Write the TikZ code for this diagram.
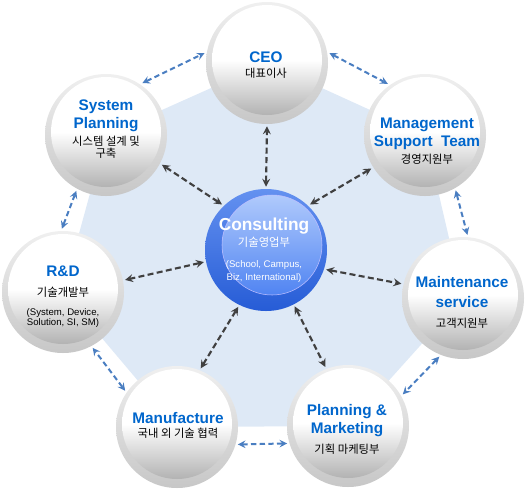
\documentclass[tikz,border=0pt]{standalone}
\usepackage{fontspec}
\newfontfamily\engfont{Liberation Sans}
\newfontfamily\korfont{Noto Sans CJK KR}
\usetikzlibrary{arrows}

\definecolor{bgblue}{RGB}{222,233,246}
\definecolor{titleblue}{RGB}{0,102,204}
\definecolor{linkblue}{RGB}{74,126,193}
\definecolor{linkgray}{RGB}{64,64,64}
\definecolor{ringtop}{RGB}{100,145,240}
\definecolor{ringbot}{RGB}{38,92,214}
\definecolor{balltop}{RGB}{176,202,252}
\definecolor{ballbot}{RGB}{80,132,242}

\newcommand{\kor}[1]{{\color{black}\korfont\mdseries\fontsize{8.5}{10}\selectfont #1}}
\newcommand{\note}[1]{{\color{black}\engfont\mdseries\fontsize{7.2}{9}\selectfont #1}}
\newcommand{\greyball}[1]{%
  \shade[top color=black!6, bottom color=black!22] (#1.center) circle[radius=61];
  \shade[top color=white, bottom color=black!30, middle color=white] ([yshift=2.25pt]#1.center) circle[radius=55];}

\begin{document}
\begin{tikzpicture}[x=0.75pt, y=0.75pt,
    hub/.style={circle, minimum size=94.5pt, inner sep=0pt},
    nametext/.style={align=center, text=titleblue, font=\engfont\bfseries\fontsize{11.5}{13.5}\selectfont}]
    \useasboundingbox (0,0) rectangle (528,-490);

    % Define the hubs (anchors for the connectors)
    \node[hub] (ceo) at (267,-63) {};
    \node[hub] (sp) at (106,-135) {};
    \node[hub] (mst) at (425,-135) {};
    \node[hub] (rd) at (63,-292) {};
    \node[hub] (ms) at (463,-298) {};
    \node[hub] (mf) at (177,-427) {};
    \node[hub] (pm) at (348,-426) {};
    \node[hub] (cs) at (266,-250) {};

    % Light blue plate behind the ring
    \fill[bgblue] (ceo.center) -- (mst.center) -- (ms.center) -- (pm.center)
        -- (mf.center) -- (rd.center) -- (sp.center) -- cycle;

    % Grey balls
    \greyball{ceo}
    \greyball{sp}
    \greyball{mst}
    \greyball{rd}
    \greyball{ms}
    \greyball{mf}
    \greyball{pm}

    % Blue ball in the middle
    \shade[top color=ringtop, bottom color=ringbot] (cs.center) circle[radius=61];
    \shade[top color=balltop, bottom color=ballbot, draw=white!75!blue, thin]
        ([xshift=4.5pt, yshift=3.75pt]cs.center) circle[radius=50];

    % Texts
    \node[nametext] (ceo-t) at (266,-65) {CEO\\[-2.25pt]\kor{대표이사}};
    \node[nametext] (sp-t) at (106,-129) {System\\Planning\\[-0.75pt]\kor{시스템 설계 및}\\[-4.5pt]\kor{구축}};
    \node[nametext] (mst-t) at (427,-141) {Management\\Support~~Team\\[-0.75pt]\kor{경영지원부}};
    \node[nametext] (ms-t) at (462,-302) {Maintenance\\[1.5pt]service\\[1.5pt]\kor{고객지원부}};
    \node[nametext] (pm-t) at (347,-429) {Planning \&\\Marketing\\[1.5pt]\kor{기획 마케팅부}};
    \node[nametext] (mf-t) at (178,-425) {Manufacture\\[-3pt]\kor{국내 외 기술 협력}};
    \node[nametext] (rd-t) at (63,-297) {R\&D\\[1.5pt]\kor{기술개발부}\\[0.75pt]\note{(System, Device,}\\[-6pt]\note{Solution, SI, SM)}};
    \node[nametext, text=white] (cs-t) at (264,-250) {{\fontsize{13}{15}\selectfont Consulting}\\[-1.5pt]{\color{white}\korfont\mdseries\fontsize{8.5}{10}\selectfont 기술영업부}\\[2.25pt]{\color{white}\engfont\mdseries\fontsize{7.2}{9}\selectfont (School, Campus,}\\[-3.75pt]{\color{white}\engfont\mdseries\fontsize{7.2}{9}\selectfont Biz, International)}};

    % Ring connectors
    \draw[<->, >=stealth, linkblue, line width=1.5pt, dash pattern=on 4pt off 2.5pt] (sp.55) -- (ceo.171);
    \draw[<->, >=stealth, linkblue, line width=1.5pt, dash pattern=on 4pt off 2.5pt] (ceo.9) -- (mst.126);
    \draw[<->, >=stealth, linkblue, line width=1.5pt, dash pattern=on 4pt off 2.5pt] (mst.-61) -- (ms.86);
    \draw[<->, >=stealth, linkblue, line width=1.5pt, dash pattern=on 4pt off 2.5pt] (ms.-112) -- (pm.30);
    \draw[<->, >=stealth, linkblue, line width=1.5pt, dash pattern=on 4pt off 2.5pt] (pm.-164) -- (mf.-16);
    \draw[<->, >=stealth, linkblue, line width=1.5pt, dash pattern=on 4pt off 2.5pt] (mf.145) -- (rd.-62);
    \draw[<->, >=stealth, linkblue, line width=1.5pt, dash pattern=on 4pt off 2.5pt] (rd.91) -- (sp.-118);

    % Spokes to the middle
    \draw[<->, >=stealth, linkgray, line width=1.6pt, dash pattern=on 4.5pt off 2.5pt] (cs.90) -- (ceo.-90);
    \draw[<->, >=stealth, linkgray, line width=1.6pt, dash pattern=on 4.5pt off 2.5pt] (cs.134) -- (sp.-28);
    \draw[<->, >=stealth, linkgray, line width=1.6pt, dash pattern=on 4.5pt off 2.5pt] (cs.46) -- (mst.212);
    \draw[<->, >=stealth, linkgray, line width=1.6pt, dash pattern=on 4.5pt off 2.5pt] (cs.191) -- (rd.11);
    \draw[<->, >=stealth, linkgray, line width=1.6pt, dash pattern=on 4.5pt off 2.5pt] (cs.-18) -- (ms.167);
    \draw[<->, >=stealth, linkgray, line width=1.6pt, dash pattern=on 4.5pt off 2.5pt] (cs.-116) -- (mf.68);
    \draw[<->, >=stealth, linkgray, line width=1.6pt, dash pattern=on 4.5pt off 2.5pt] (cs.-63) -- (pm.111);
\end{tikzpicture}
\end{document}
